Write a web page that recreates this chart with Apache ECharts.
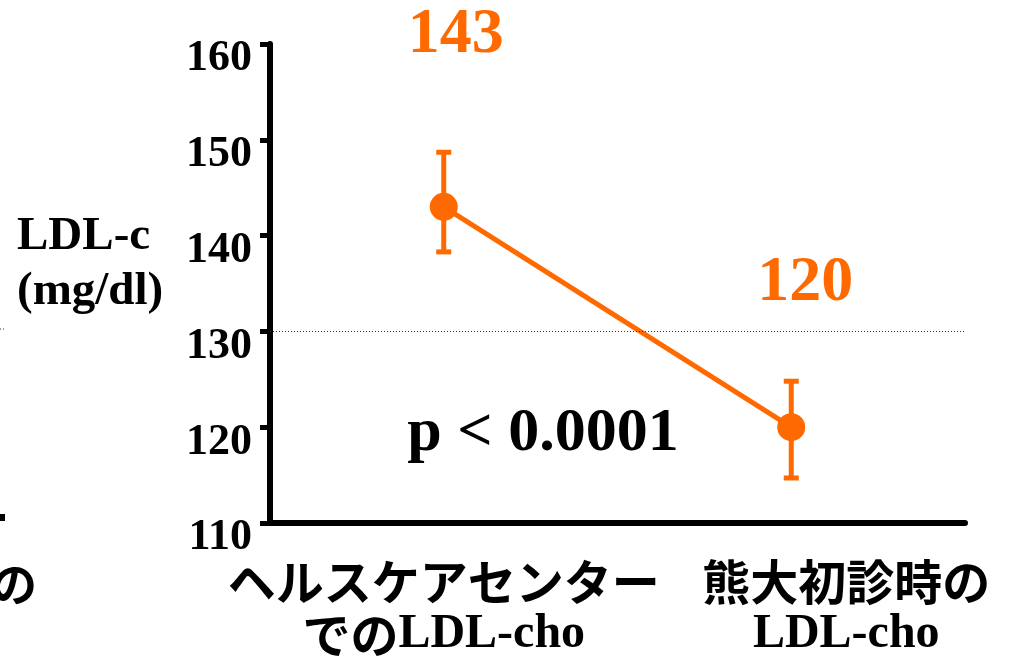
<!DOCTYPE html>
<html>
<head>
<meta charset="utf-8">
<script src="https://cdn.jsdelivr.net/npm/echarts@6/dist/echarts.min.js"></script>
<style>
  html, body { margin: 0; padding: 0; background: #fff; }
  #chart { width: 1010px; height: 662px; }
</style>
</head>
<body>
<div id="chart"></div>
<script>
// LDL cholesterol: health-check centre vs. first visit at Kumamoto University
const categories = ['ヘルスケアセンター\nでのLDL-cho', '熊大初診時の\nLDL-cho'];
const means = [143, 120];
const lows = [138.3, 114.7];
const highs = [148.7, 124.8];
const refLevel = 130;
const yTicks = [110, 120, 130, 140, 150, 160];
const yTitle = ['LDL-c', '(mg/dl)'];
const pValueText = 'p < 0.0001';

const ORANGE = '#ff6a00';
const SERIF = '"Liberation Serif", "Times New Roman", serif';
const JP = '"Noto Sans CJK JP", "Noto Sans", sans-serif';

// split a label into Latin and Japanese runs so each gets its own font
function mixRuns(text) {
  return text.split('\n').map(function (line) {
    return line.replace(/([A-Za-z0-9\-]+)|([^A-Za-z0-9\-]+)/g, function (m, en, jp) {
      return en ? '{en|' + en + '}' : '{jp|' + jp + '}';
    });
  }).join('\n');
}

const chart = echarts.init(document.getElementById('chart'));

// where each value label sits relative to its point
const labelOffsets = [[12, -120], [14, -93]];
// horizontal nudge of each category label block (left padding)
const catPadLeft = [0, 110];

chart.setOption({
  animation: false,
  backgroundColor: '#fff',
  grid: { left: 270, right: 45, top: 44, bottom: 139, containLabel: false },
  xAxis: {
    type: 'category',
    data: categories.map(function (c, i) {
      return { value: c, textStyle: { padding: [0, 0, 0, catPadLeft[i]] } };
    }),
    boundaryGap: true,
    axisLine: { lineStyle: { color: '#000', width: 6 } },
    axisTick: { alignWithLabel: true, length: 6, lineStyle: { color: '#000', width: 4 } },
    axisLabel: {
      margin: 32,
      interval: 0,
      formatter: mixRuns,
      rich: {
        jp: { fontFamily: JP, fontWeight: 'bold', fontSize: 48, color: '#000', lineHeight: 53 },
        en: { fontFamily: SERIF, fontWeight: 'bold', fontSize: 48, color: '#000', lineHeight: 53 }
      }
    },
    splitLine: { show: false }
  },
  yAxis: {
    type: 'value',
    min: yTicks[0],
    max: yTicks[yTicks.length - 1],
    interval: yTicks[1] - yTicks[0],
    axisLine: { show: true, lineStyle: { color: '#000', width: 6 } },
    axisTick: { show: true, length: 10, lineStyle: { color: '#000', width: 5 } },
    axisLabel: {
      margin: 18,
      fontFamily: SERIF,
      fontWeight: 'bold',
      fontSize: 44,
      color: '#000',
      verticalAlign: 'top',
      lineHeight: 30
    },
    splitLine: { show: false }
  },
  graphic: [
    {
      type: 'text',
      left: 17,
      top: 209,
      style: {
        text: yTitle.join('\n'),
        font: 'bold 47px ' + SERIF,
        fill: '#000',
        lineHeight: 55
      }
    },
    {
      type: 'text',
      x: 543,
      y: 434,
      style: {
        text: pValueText,
        font: 'bold 62px ' + SERIF,
        fill: '#000',
        align: 'center',
        verticalAlign: 'middle'
      }
    },
    // edge of the neighbouring panel
    { type: 'rect', shape: { x: 0, y: 514, width: 5, height: 7 }, style: { fill: '#000' } },
    { type: 'line', shape: { x1: 0, y1: 329, x2: 5, y2: 329 }, style: { stroke: '#333', lineWidth: 1, lineDash: [1, 2] } },
    {
      type: 'text',
      x: -9,
      y: 584,
      style: {
        text: 'の',
        font: 'bold 46px ' + JP,
        fill: '#000',
        verticalAlign: 'middle'
      }
    }
  ],
  series: [
    {
      type: 'custom',
      z: 2,
      data: categories.map(function (c, i) { return [i, lows[i], highs[i]]; }),
      renderItem: function (params, api) {
        const i = api.value(0);
        const lo = api.coord([i, api.value(1)]);
        const hi = api.coord([i, api.value(2)]);
        const half = 7.5;
        const st = { stroke: ORANGE, lineWidth: 5 };
        return {
          type: 'group',
          children: [
            { type: 'line', shape: { x1: lo[0], y1: lo[1], x2: hi[0], y2: hi[1] }, style: st },
            { type: 'line', shape: { x1: lo[0] - half, y1: lo[1], x2: lo[0] + half, y2: lo[1] }, style: st },
            { type: 'line', shape: { x1: hi[0] - half, y1: hi[1], x2: hi[0] + half, y2: hi[1] }, style: st }
          ]
        };
      }
    },
    {
      type: 'line',
      z: 3,
      data: means.map(function (v, i) {
        return { value: v, label: { offset: labelOffsets[i] } };
      }),
      symbol: 'circle',
      symbolSize: 28,
      itemStyle: { color: ORANGE },
      lineStyle: { color: ORANGE, width: 5 },
      label: {
        show: true,
        position: 'top',
        formatter: '{c}',
        fontFamily: SERIF,
        fontWeight: 'bold',
        fontSize: 64,
        color: ORANGE
      },
      markLine: {
        silent: true,
        symbol: 'none',
        label: { show: false },
        lineStyle: { color: '#333', width: 1, type: [1, 2] },
        data: [{ yAxis: refLevel }]
      }
    }
  ]
});
</script>
</body>
</html>
